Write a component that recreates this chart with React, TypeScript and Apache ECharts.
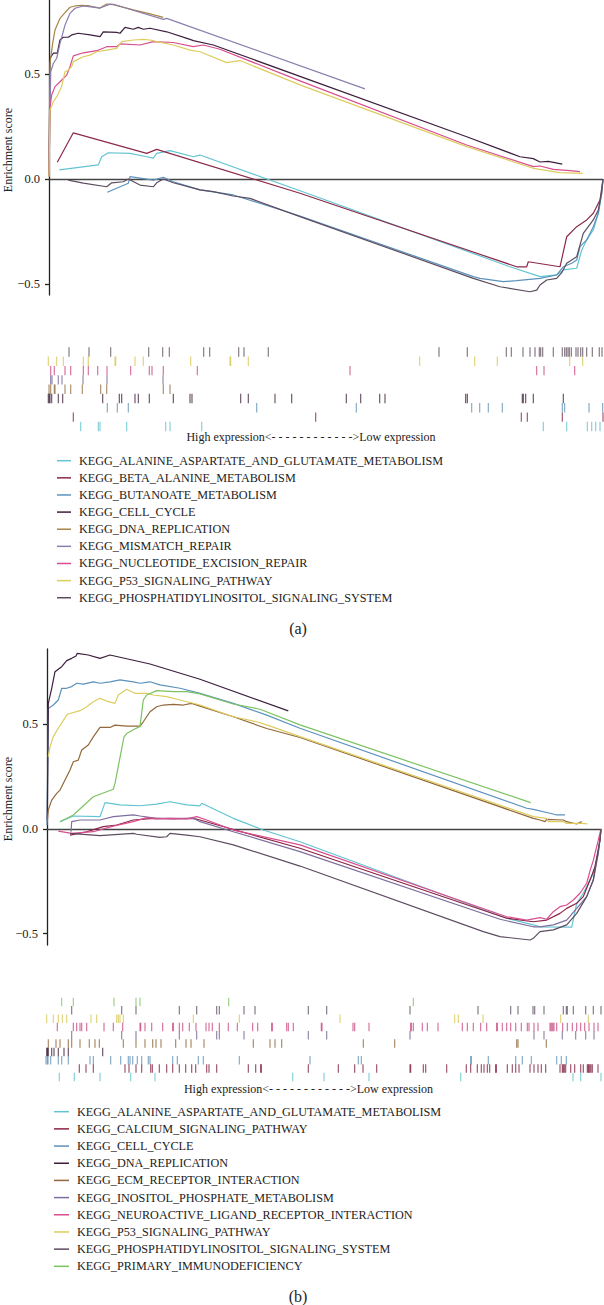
import React, { useEffect, useRef } from "react";
import * as echarts from "echarts";

const FONT = '"Liberation Serif", "Times New Roman", serif';

// ---------- Panel (a) ----------
const A_NAMES = [
  "KEGG_ALANINE_ASPARTATE_AND_GLUTAMATE_METABOLISM",
  "KEGG_BETA_ALANINE_METABOLISM",
  "KEGG_BUTANOATE_METABOLISM",
  "KEGG_CELL_CYCLE",
  "KEGG_DNA_REPLICATION",
  "KEGG_MISMATCH_REPAIR",
  "KEGG_NUCLEOTIDE_EXCISION_REPAIR",
  "KEGG_P53_SIGNALING_PATHWAY",
  "KEGG_PHOSPHATIDYLINOSITOL_SIGNALING_SYSTEM",
];
const A_COLORS = ["#62c4d2", "#8c2a4a", "#5b92bd", "#3c1f3c", "#a88545", "#8b7fae", "#d84e8e", "#dccd5e", "#5d4c60"];

const A_ALANINE = [[10.3,0.043],[49.3,0.067],[52.7,0.106],[59.3,0.125],[81,0.122],[97.7,0.106],[104.3,0.099],[107.7,0.122],[121,0.135],[144.3,0.106],[151,0.114],[251,-0.056],[461,-0.418],[491,-0.465],[507.7,-0.457],[514.3,-0.433],[527.7,-0.425],[532.7,-0.338],[537.7,-0.29],[544.3,-0.243],[549.3,-0.163],[552.7,-0.068],[554,0]];
const A_BETA = [[8.3,0.08],[24.3,0.22],[97.7,0.122],[107.7,0.141],[251,-0.068],[467.7,-0.418],[477.7,-0.418],[479.3,-0.394],[511,-0.418],[517.7,-0.275],[527.7,-0.227],[537.7,-0.195],[544.3,-0.163],[551,-0.1],[554,0]];
const A_BUTANOATE = [[58.3,-0.063],[79.3,-0.02],[81,0.011],[104.3,-0.005],[114.3,0.008],[124.3,-0.013],[151,-0.052],[184.3,-0.076],[251,-0.176],[424.3,-0.465],[431,-0.473],[454.3,-0.489],[467.7,-0.484],[491,-0.473],[507.7,-0.457],[514.3,-0.418],[522.7,-0.401],[527.7,-0.386],[531,-0.322],[537.7,-0.29],[544.3,-0.227],[549.3,-0.163],[552.7,-0.068],[554,0]];
const A_CELL = [[0,0.019],[1,0.575],[4.3,0.599],[8.3,0.599],[11,0.662],[14.3,0.675],[19.3,0.675],[22.7,0.686],[29.3,0.694],[41,0.686],[51,0.678],[54.3,0.701],[67.7,0.698],[71,0.694],[76,0.722],[84.3,0.713],[89.3,0.722],[94.3,0.713],[101,0.718],[117.7,0.701],[141,0.665],[144.3,0.659],[164.3,0.638],[417.7,0.201],[471,0.106],[484.3,0.097],[491,0.081],[499.3,0.084],[513.3,0.071]];
const A_DNA = [[0,0.029],[1,0.551],[3.7,0.646],[6,0.71],[11,0.765],[16,0.792],[21,0.818],[26,0.824],[32.7,0.827],[41,0.824],[51,0.814],[54.3,0.824],[57.7,0.833],[64.3,0.83],[84.3,0.805],[101,0.786],[114.3,0.77]];
const A_MISMATCH = [[0,0.025],[1.7,0.51],[4.3,0.55],[7.7,0.575],[11,0.646],[16,0.733],[21,0.789],[26,0.813],[34.3,0.824],[51,0.814],[61,0.833],[66,0.83],[114.3,0.76],[117.7,0.765],[316,0.429]];
const A_NER = [[0,0.011],[1,0.344],[2.7,0.4],[6,0.44],[11,0.463],[17.7,0.495],[21,0.535],[24.3,0.586],[34.3,0.601],[47.7,0.611],[57.7,0.63],[67.7,0.63],[71,0.643],[91,0.638],[104.3,0.654],[124.3,0.65],[144.3,0.63],[154.3,0.638],[171,0.618],[251,0.467],[417.7,0.162],[484.3,0.059],[491,0.062],[504.3,0.046],[521,0.04],[531,0.035]];
const A_P53 = [[0,0.011],[1,0.329],[4.3,0.368],[7.7,0.392],[12.7,0.44],[16,0.511],[19.3,0.519],[22.7,0.535],[24.3,0.559],[34.3,0.582],[41,0.59],[47.7,0.606],[57.7,0.614],[67.7,0.622],[72.7,0.654],[84.3,0.662],[94.3,0.665],[101,0.662],[107.7,0.654],[124.3,0.638],[141,0.614],[151,0.606],[177.7,0.554],[191,0.564],[251,0.448],[417.7,0.154],[484.3,0.051],[511,0.03],[533.7,0.027]];
const A_PHOSPH = [[19.3,-0.005],[34.3,-0.02],[57.7,-0.037],[62.7,-0.018],[74.3,-0.013],[79.3,0],[91,-0.029],[104.3,-0.037],[107.7,-0.018],[114.3,0],[124.3,-0.018],[151,-0.052],[164.3,-0.06],[184.3,-0.081],[201,-0.092],[251,-0.179],[424.3,-0.473],[451,-0.513],[481,-0.537],[487.7,-0.529],[491,-0.505],[497.7,-0.481],[507.7,-0.473],[512.7,-0.446],[517.7,-0.401],[527.7,-0.37],[534.3,-0.259],[544.3,-0.195],[549.3,-0.148],[552.7,-0.06],[554,0]];

// hit positions (gene rank) for panel (a) rug, top row first
const A_RUG_PHOSPH = [20,40,61.7,99.7,113.7,120.3,154.7,160.7,189.7,195,219.3,390,418.3,457.3,462.3,474,481,486,490.3,491.7,493.7,504.3,513.3,515.7,517.3,519,520.3,522.3,527,529,531.7,533.7,537.7,543.3,550.3,553];
const A_RUG_P53 = [-0.7,7.7,14.3,34.3,39.3,66,66.7,86,94.3,141.7,181,181.7,199.3,370.7,425.7,448.3,520.7,533.7];
const A_RUG_NER = [1.7,5.3,16,21.7,34.3,39.3,48.7,58,81.7,100.3,103,114.3,148.3,301,487.7,495,525.7];
const A_RUG_MISMATCH = [1.7,3,9.3,13,34,58,114];
const A_RUG_DNA = [0,1.7,5.3,6,16,21.7,33.3,51.7,57.7,114.3,121];
const A_RUG_CELL = [-0.7,0.3,1,2.7,9.3,13.7,53.7,70.3,72.7,86,89.3,100.3,124.3,141,143,191.7,199.3,226,242.7,297.3,311.7,330.7,336,416.7,418.3,473.3,474.3,476.7,484.3,514.3];
const A_RUG_BUTANOATE = [58.3,68.3,79.3,207.7,307.3,422.7,430.7,439.3,453.3,513.3,515.7,540,553.7];
const A_RUG_BETA = [24.3,266.7,472.3,478.3,513.3,554];
const A_RUG_ALANINE = [31.7,49.3,51,77.7,116.7,121,152.7,494.3,517.7,538.3,542.7,546.7,551];

// ---------- Panel (b) ----------
const B_NAMES = [
  "KEGG_ALANINE_ASPARTATE_AND_GLUTAMATE_METABOLISM",
  "KEGG_CALCIUM_SIGNALING_PATHWAY",
  "KEGG_CELL_CYCLE",
  "KEGG_DNA_REPLICATION",
  "KEGG_ECM_RECEPTOR_INTERACTION",
  "KEGG_INOSITOL_PHOSPHATE_METABOLISM",
  "KEGG_NEUROACTIVE_LIGAND_RECEPTOR_INTERACTION",
  "KEGG_P53_SIGNALING_PATHWAY",
  "KEGG_PHOSPHATIDYLINOSITOL_SIGNALING_SYSTEM",
  "KEGG_PRIMARY_IMMUNODEFICIENCY",
];
const B_COLORS = ["#62c4d2", "#8a2245", "#5b92bd", "#3c1f3c", "#94683a", "#7e6e9e", "#d84e8e", "#dccd5e", "#5d4c60", "#7dc262"];

const B_ALANINE = [[13,0.035],[26.3,0.062],[53,0.059],[58,0.126],[73,0.115],[93,0.111],[109.7,0.119],[123,0.13],[139.7,0.115],[153,0.11],[154.7,0.123],[186.3,0.051],[216.3,-0.005],[253,-0.061],[459.7,-0.426],[486.3,-0.458],[493,-0.467],[524.7,-0.469],[529.7,-0.355],[536.3,-0.307],[546.3,-0.212],[551.3,-0.116],[554,0]];
const B_CALCIUM = [[23,-0.029],[39.7,-0.013],[56.3,0.011],[69.7,0.019],[86.3,0.043],[106.3,0.051],[126.3,0.048],[146.3,0.051],[153,0.043],[253,-0.092],[459.7,-0.426],[486.3,-0.443],[499.7,-0.435],[513,-0.403],[519.7,-0.379],[529.7,-0.355],[536.3,-0.323],[543,-0.244],[548,-0.18],[553,-0.053],[554,0]];
const B_CELL = [[0,0.019],[1.3,0.576],[6.3,0.592],[11.3,0.616],[14.7,0.672],[19.7,0.672],[24.7,0.68],[29.7,0.696],[36.3,0.692],[46.3,0.703],[53,0.696],[63,0.703],[73,0.712],[86.3,0.703],[93,0.696],[103,0.703],[113,0.688],[133,0.672],[153,0.648],[186.3,0.6],[219.7,0.544],[253,0.481],[479.7,0.099],[486.3,0.094],[503,0.075],[509.7,0.067],[518,0.067]];
const B_DNA = [[0.3,0.043],[1.3,0.6],[4.7,0.672],[8,0.751],[14.7,0.775],[19.7,0.804],[24.7,0.815],[29,0.826],[30.3,0.839],[41.3,0.831],[53,0.815],[63,0.831],[103,0.788],[153,0.715],[241.3,0.564]];
const B_ECM = [[0.3,0.035],[1.3,0.091],[4.7,0.138],[9.7,0.17],[13,0.186],[18,0.234],[23,0.282],[26.3,0.321],[31.3,0.329],[34.7,0.377],[41.3,0.401],[46.3,0.44],[53,0.485],[63,0.485],[68,0.496],[79.7,0.491],[93,0.491],[96.3,0.512],[103,0.56],[109.7,0.584],[116.3,0.592],[126.3,0.595],[136.3,0.592],[144.7,0.6],[153,0.587],[186.3,0.536],[219.7,0.48],[253,0.437],[486.3,0.051],[493,0.043],[498,0.035],[499.7,0.046],[516.3,0.043],[519.7,0.035],[529.7,0.024],[534.7,0.035]];
const B_INOSITOL = [[24,-0.013],[24.7,0.035],[33,0.043],[53,0.043],[66.3,0.059],[86.3,0.067],[93,0.062],[109.7,0.051],[146.3,0.051],[153,0.035],[186.3,-0.013],[253,-0.108],[453,-0.431],[486.3,-0.467],[493,-0.467],[506.3,-0.458],[519.7,-0.435],[529.7,-0.379],[539.7,-0.323],[546.3,-0.244],[551.3,-0.116],[554,0]];
const B_NEURO = [[11.3,-0.01],[24.7,-0.021],[46.3,-0.013],[66.3,0.014],[86.3,0.035],[99.7,0.054],[109.7,0.048],[123,0.051],[139.7,0.048],[149.7,0.059],[159.7,0.043],[186.3,-0.005],[253,-0.076],[459.7,-0.419],[479.7,-0.435],[493,-0.423],[499.7,-0.431],[506.3,-0.395],[513,-0.371],[519.7,-0.363],[526.3,-0.339],[533,-0.307],[539.7,-0.259],[543,-0.2],[546.3,-0.15],[551.3,-0.053],[554,0]];
const B_P53 = [[1.3,0.345],[3,0.393],[6.3,0.441],[11.3,0.481],[19.7,0.544],[21.3,0.549],[33,0.565],[39.7,0.584],[46.3,0.608],[53,0.624],[59.7,0.611],[68,0.6],[71.3,0.64],[79.7,0.667],[88,0.648],[99.7,0.648],[106.3,0.64],[119.7,0.632],[133,0.616],[153,0.592],[186.3,0.536],[209.7,0.512],[219.7,0.497],[253,0.441],[486.3,0.059],[499.7,0.051],[501.3,0.035],[516.3,0.035],[519.7,0.027],[534.7,0.027],[540.3,0.024]];
const B_PHOSPH = [[23,-0.021],[53,-0.032],[86.3,-0.021],[89.7,-0.025],[113,-0.04],[119.7,-0.037],[123,-0.021],[139.7,-0.029],[153,-0.037],[186.3,-0.076],[253,-0.177],[436.3,-0.49],[453,-0.514],[483,-0.53],[486.3,-0.522],[493,-0.49],[506.3,-0.482],[519.7,-0.458],[529.7,-0.403],[539.7,-0.323],[546.3,-0.244],[553,-0.053],[554,0]];
const B_PRIMARY = [[13,0.035],[26.3,0.067],[46.3,0.154],[66.3,0.19],[68,0.218],[77,0.44],[79.7,0.456],[86.3,0.474],[93,0.49],[96.3,0.616],[99.7,0.64],[109.7,0.661],[126.3,0.656],[139.7,0.656],[153,0.645],[186.3,0.597],[213,0.572],[253,0.497],[483.7,0.126]];

// hit positions for panel (b) rug, top row first
const B_RUG_PRIMARY = [14.7,26.3,67,89,93,181.7,366.3];
const B_RUG_PHOSPH = [24.7,74.7,89,132.3,149.7,169.7,172.3,197,208,261.3,279.7,363,431,463.7,471,486,487.7,497,516.3,519.3,520.3,526.3,538.7,546.3,554];
const B_RUG_P53 = [-0.3,6.3,11.3,15.3,19.7,44,49.7,69.7,71.3,73,76.3,146.3,192.3,293,407.7,411.3,436,513.7,541.3];
const B_RUG_NEURO = [10.3,26.3,29.7,33,34.7,39.7,57,66.3,75.7,93,93.7,98,104.7,115.7,125.7,126.3,132.3,135.7,142.3,149,159,162,165.3,172.3,181.3,190.3,205.7,210.7,224.7,225.3,239.7,241.3,246.3,274.3,275,306,307.7,322,363.7,364.3,366.3,375.3,380.3,391,415.3,420.3,426.3,433.7,439.7,449.7,450.3,455.3,459.7,463.7,468.7,474.3,480.3,482,487,491,503,504,505,506,507,509.7,515.7,520.3,525.3,529.7,533.7,537.7,542,547,551];
const B_RUG_INOSITOL = [24.7,74.7,89,132.3,149.7,169.7,172.3,197,261.3,279.7,363,487,497,515.3,528.7,538.7,547];
const B_RUG_ECM = [1.3,9,13,21.3,24.7,33,42.3,48,52.3,76.3,89,98,105.7,109,114,128.7,139,144,157,206.3,223,228,234.7,316.3,347.7,469.7,471,499.3];
const B_RUG_DNA = [-0.3,0.5,1.3,4.7,7,11.3,17,21.3,55.7];
const B_RUG_CELL = [-1,0.3,1,3.7,11.3,14.7,21.3,43,46.3,63.7,73.7,81.3,83,85.7,90.3,94.7,101.3,103,125.7,130.3,151.3,156.3,192.3,263,311.3,314.3,423.7,424.3,441.3,468.7,475.3,484.3,509.7,514.3,519.3];
const B_RUG_CALCIUM = [32.3,39,46.3,78,82,89,94.7,103.7,105.3,112.3,119.7,125.7,132.3,138.7,144.7,148.7,159.7,162,169.7,201.3,208.7,213.7,214.3,261.3,291.3,307.7,316,329.7,363,363.7,376.3,378.7,399.7,419.3,423.7,430.3,434.3,437,440.3,442.7,448.7,449.3,460.3,465.3,468.7,472,483,487,491,494.3,498.7,513,515.3,516.3,517.3,518.7,523.7,527.7,533.7,536.3,540.3,541.3,542,543,544,545.3,551];
const B_RUG_ALANINE = [12.3,27.3,53,83.7,108,245.7,277,322,413.7,526,533.7,554];

const TICKS = [-0.5, 0, 0.5];
const AXIS_LABEL = "High expression<- - - - - - - - - - - ->Low expression";

function fmt(v: number) {
  const s = Math.abs(v).toFixed(1);
  return v < 0 ? "\u2212" + s : s;
}

export default function App() {
  const ref = useRef<HTMLDivElement>(null);
  useEffect(() => {
    document.body.style.margin = "0";
    const chart = echarts.init(ref.current!, undefined, { renderer: "svg" });

    const aLines = [A_ALANINE, A_BETA, A_BUTANOATE, A_CELL, A_DNA, A_MISMATCH, A_NER, A_P53, A_PHOSPH];
    const bLines = [B_ALANINE, B_CALCIUM, B_CELL, B_DNA, B_ECM, B_INOSITOL, B_NEURO, B_P53, B_PHOSPH, B_PRIMARY];
    const aRug = [A_RUG_PHOSPH, A_RUG_P53, A_RUG_NER, A_RUG_MISMATCH, A_RUG_DNA, A_RUG_CELL, A_RUG_BUTANOATE, A_RUG_BETA, A_RUG_ALANINE];
    const aRugColors = ["#5a4858", "#d6c64e", "#c8417b", "#6f6290", "#8c6a3a", "#3a1c36", "#5a8db0", "#7a2040", "#5bbfcc"];
    const bRug = [B_RUG_PRIMARY, B_RUG_PHOSPH, B_RUG_P53, B_RUG_NEURO, B_RUG_INOSITOL, B_RUG_ECM, B_RUG_DNA, B_RUG_CELL, B_RUG_CALCIUM, B_RUG_ALANINE];
    const bRugColors = ["#7cbf5e", "#5a4a5e", "#d6c64e", "#c8407c", "#6e5f8a", "#8a6030", "#3b1a33", "#5b8db3", "#7a1a3a", "#5bbfcc"];

    const series: any[] = [];
    aLines.forEach((d, i) =>
      series.push({
        type: "line", name: A_NAMES[i], data: d, xAxisIndex: 0, yAxisIndex: 0,
        showSymbol: false, symbol: "none", silent: true,
        lineStyle: { width: 1.2, color: A_COLORS[i] }, itemStyle: { color: A_COLORS[i] },
      })
    );
    bLines.forEach((d, i) =>
      series.push({
        type: "line", name: B_NAMES[i], data: d, xAxisIndex: 2, yAxisIndex: 2,
        showSymbol: false, symbol: "none", silent: true,
        lineStyle: { width: 1.2, color: B_COLORS[i] }, itemStyle: { color: B_COLORS[i] },
      })
    );
    aRug.forEach((r, row) =>
      series.push({
        type: "scatter", data: r.map((x) => [x, row + 0.5]), xAxisIndex: 1, yAxisIndex: 1,
        symbol: "rect", symbolSize: [1.1, 9.4], clip: false, silent: true,
        itemStyle: { color: aRugColors[row] },
      })
    );
    bRug.forEach((r, row) =>
      series.push({
        type: "scatter", data: r.map((x) => [x, row + 0.5]), xAxisIndex: 3, yAxisIndex: 3,
        symbol: "rect", symbolSize: [1.1, 8.5], clip: false, silent: true,
        itemStyle: { color: bRugColors[row] },
      })
    );

    const lineX = (g: number) => ({
      gridIndex: g, type: "value", min: 0, max: 554,
      axisLine: { show: true, onZero: true, lineStyle: { color: "#444", width: 1.3 } },
      axisTick: { show: false }, axisLabel: { show: false }, splitLine: { show: false },
    });
    const hiddenX = (g: number) => ({ gridIndex: g, type: "value", min: 0, max: 554, show: false });
    const lineY = (g: number, min: number, max: number) => ({
      gridIndex: g, type: "value", min, max,
      axisLine: { show: true, onZero: false, lineStyle: { color: "#222", width: 1.3 } },
      axisTick: { show: true, length: 4, customValues: TICKS, lineStyle: { color: "#222", width: 1.3 } },
      axisLabel: { show: true, customValues: TICKS, formatter: fmt, fontSize: 12.5, fontFamily: FONT, color: "#222", margin: 9 },
      splitLine: { show: false },
    });
    const hiddenY = (g: number, n: number) => ({ gridIndex: g, type: "value", min: 0, max: n, inverse: true, show: false });

    const graphic: any[] = [];
    const text = (x: number, y: number, t: string, size: number, align = "left", rot = 0) =>
      graphic.push({
        type: "text", x, y, rotation: rot, silent: true,
        style: { text: t, fill: "#222", fontSize: size, fontFamily: FONT, align, verticalAlign: "middle", textAlign: align, textVerticalAlign: "middle" },
      });

    text(7.5, 150, "Enrichment score", 12, "center", Math.PI / 2);
    text(7.5, 799, "Enrichment score", 12, "center", Math.PI / 2);
    text(311, 437, AXIS_LABEL, 12, "center");
    text(308.5, 1089, AXIS_LABEL, 12, "center");
    A_NAMES.forEach((n, i) => {
      const y = 460.7 + i * 17.13;
      graphic.push({ type: "line", silent: true, shape: { x1: 57, y1: y, x2: 71, y2: y }, style: { stroke: A_COLORS[i], lineWidth: 1.5 } });
      text(79, y, n, 12.2);
    });
    B_NAMES.forEach((n, i) => {
      const y = 1111.7 + i * 17.18;
      graphic.push({ type: "line", silent: true, shape: { x1: 54, y1: y, x2: 69, y2: y }, style: { stroke: B_COLORS[i], lineWidth: 1.5 } });
      text(77, y, n, 12.2);
    });
    text(298, 628, "(a)", 16, "center");
    text(298, 1296, "(b)", 16, "center");

    chart.setOption({
      animation: false,
      backgroundColor: "#ffffff",
      grid: [
        { left: 49, top: 0, width: 554, height: 295 },
        { left: 49, top: 347.3, width: 554, height: 83.8 },
        { left: 47, top: 649, width: 554, height: 296 },
        { left: 47, top: 997.8, width: 554, height: 83.3 },
      ],
      xAxis: [lineX(0), hiddenX(1), lineX(2), hiddenX(3)],
      yAxis: [lineY(0, -0.5524, 0.8524), hiddenY(1, 9), lineY(2, -0.554, 0.8596), hiddenY(3, 10)],
      series,
      graphic,
    });
    return () => chart.dispose();
  }, []);
  return <div ref={ref} style={{ position: "absolute", left: 0, top: 0, width: 604, height: 1305 }} />;
}
